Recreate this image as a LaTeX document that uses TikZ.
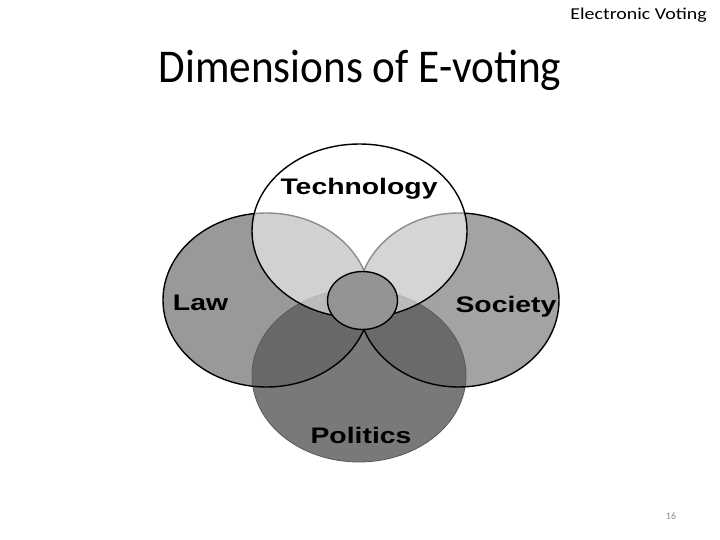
\documentclass[tikz,border=0pt]{standalone}
\usepackage{fontspec}
\setmainfont{Carlito}
\newfontfamily\arialf{Liberation Sans}
\definecolor{lawgray}{gray}{0.6}
\definecolor{socgray}{gray}{0.64}
\definecolor{polgray}{gray}{0.38}
\definecolor{midgray}{gray}{0.58}
\definecolor{numgray}{gray}{0.55}
\tikzset{
  outl/.style={draw=black, line width=1.4pt},
  lbl/.style={font=\arialf\bfseries\fontsize{22.5}{24}\selectfont, xscale=1.26, anchor=base, inner sep=0pt},
}
\begin{document}
\begin{tikzpicture}[x=1pt,y=-1pt]
\useasboundingbox (0,0) rectangle (720,540);
% fills
\fill[lawgray] (266.5,300) ellipse [x radius=103.5pt, y radius=87pt];
\fill[socgray] (458.5,300) ellipse [x radius=100.5pt, y radius=87pt];
\fill[polgray, fill opacity=0.85] (359,375.5) ellipse [x radius=107pt, y radius=86.5pt];
\draw[gray!70!black, line width=0.8pt] (359,375.5) ellipse [x radius=107pt, y radius=86.5pt];
\draw[outl] (266.5,300) ellipse [x radius=103.5pt, y radius=87pt];
\draw[outl] (458.5,300) ellipse [x radius=100.5pt, y radius=87pt];
\fill[white, fill opacity=0.55] (359.5,231) ellipse [x radius=107.5pt, y radius=87pt];
\draw[outl] (359.5,231) ellipse [x radius=107.5pt, y radius=87pt];
\draw[outl, fill=midgray] (362.5,300.5) ellipse [x radius=35pt, y radius=29pt];
% labels
\node[lbl] (tech) at (359,195) {Technology};
\node[lbl] (law) at (200.5,310) {Law};
\node[lbl] (soc) at (506,312) {Society};
\node[lbl] (pol) at (361,443) {Politics};
% slide texts
\node[font=\fontsize{47}{52}\selectfont, xscale=0.92, anchor=base, inner sep=0pt] (title) at (360,83) {Dimensions of E-voting};
\node[font=\fontsize{16.6}{18}\selectfont, xscale=1.2, anchor=base east, inner sep=0pt] (hdr) at (707,20) {Electronic Voting};
\node[font=\fontsize{10}{12}\selectfont, text=numgray, anchor=base, inner sep=0pt] (num) at (671,519) {16};
\end{tikzpicture}
\end{document}
